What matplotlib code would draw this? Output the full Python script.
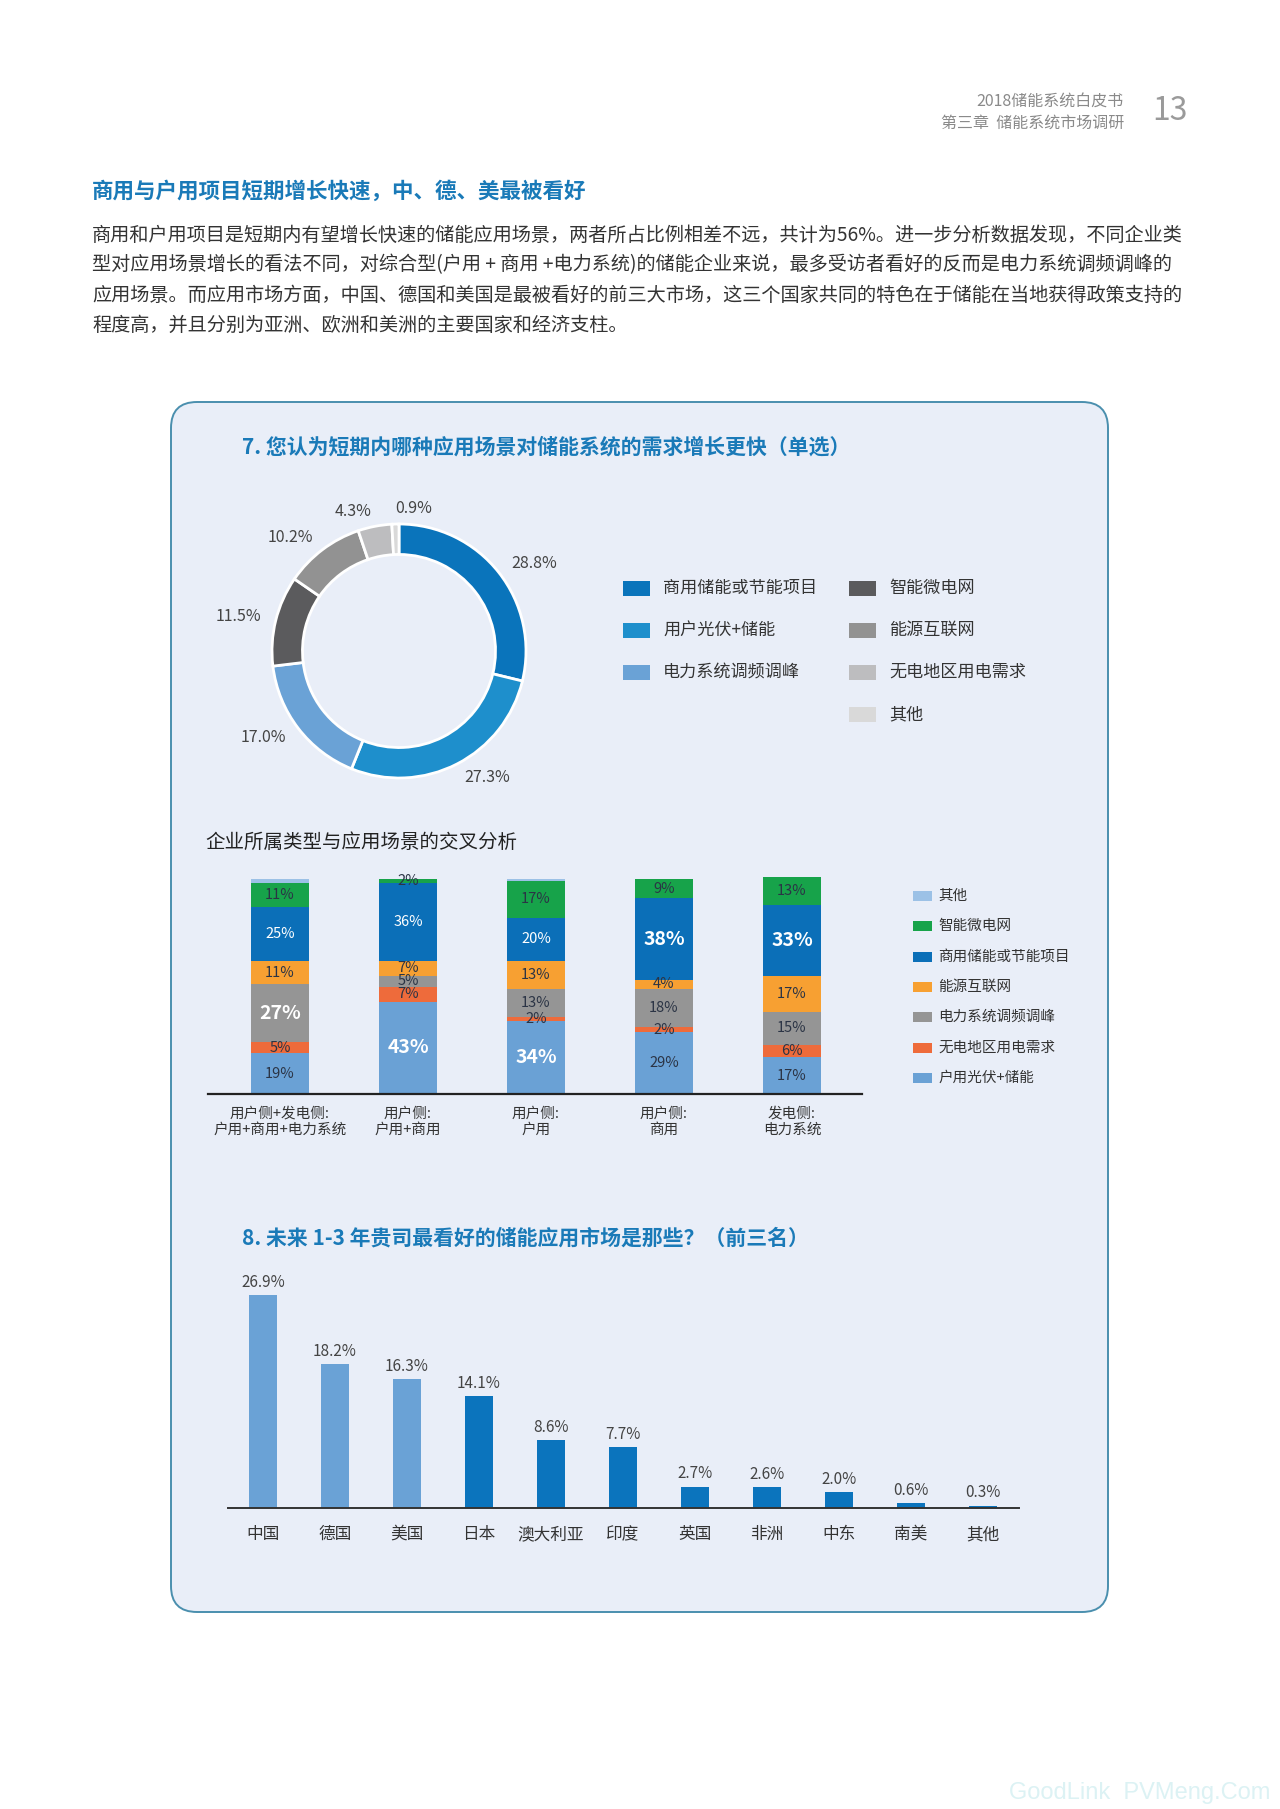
import numpy as np
import matplotlib.pyplot as plt
from matplotlib.patches import FancyBboxPatch, Rectangle

plt.rcParams['font.family'] = ['Noto Sans CJK SC', 'DejaVu Sans']

W, H = 1280, 1809

# ---- donut: question 7
pie_names = ['商用储能或节能项目', '用户光伏+储能', '电力系统调频调峰', '智能微电网',
             '能源互联网', '无电地区用电需求', '其他']
pie_values = [28.8, 27.3, 17.0, 11.5, 10.2, 4.3, 0.9]
pie_colors = ['#0a74bb', '#1e8fcc', '#6aa2d6', '#5b5b5d', '#929292', '#bdbdbf', '#d9d9d9']

# ---- stacked bars: company type x scenario
groups = ['用户侧+发电侧:\n户用+商用+电力系统', '用户侧:\n户用+商用', '用户侧:\n户用',
          '用户侧:\n商用', '发电侧:\n电力系统']
s_huyong = [19, 43, 34, 29, 17]      # 户用光伏+储能
s_wudian = [5, 7, 2, 2, 6]           # 无电地区用电需求
s_tiaofeng = [27, 5, 13, 18, 15]     # 电力系统调频调峰
s_hulian = [11, 7, 13, 4, 17]        # 能源互联网
s_shangyong = [25, 36, 20, 38, 33]   # 商用储能或节能项目
s_weiwang = [11, 2, 17, 9, 13]       # 智能微电网
s_qita = [2, 0, 1, 0, 0]             # 其他
stack_names = ['户用光伏+储能', '无电地区用电需求', '电力系统调频调峰', '能源互联网',
               '商用储能或节能项目', '智能微电网', '其他']
stack_colors = ['#6aa1d5', '#ee6b3b', '#959595', '#f7a032', '#0b6fb8', '#17a34a', '#9cc1e6']
stack_text = ['#2b3445', '#2b3445', '#2b3445', '#2b3445', 'white', '#2b3445', None]

# ---- bars: question 8
markets = ['中国', '德国', '美国', '日本', '澳大利亚', '印度', '英国', '非洲', '中东', '南美', '其他']
market_pct = [26.9, 18.2, 16.3, 14.1, 8.6, 7.7, 2.7, 2.6, 2.0, 0.6, 0.3]
market_colors = ['#6aa2d6'] * 3 + ['#0b74bd'] * 8

paragraph = [
    '商用和户用项目是短期内有望增长快速的储能应用场景，两者所占比例相差不远，共计为56%。进一步分析数据发现，不同企业类',
    '型对应用场景增长的看法不同，对综合型(户用 + 商用 +电力系统)的储能企业来说，最多受访者看好的反而是电力系统调频调峰的',
    '应用场景。而应用市场方面，中国、德国和美国是最被看好的前三大市场，这三个国家共同的特色在于储能在当地获得政策支持的',
    '程度高，并且分别为亚洲、欧洲和美洲的主要国家和经济支柱。',
]

BLUE_T = '#1a7ab8'


def px_rect(x0, y0, x1, y1):
    return [x0 / W, 1 - y1 / H, (x1 - x0) / W, (y1 - y0) / H]


fig = plt.figure(figsize=(W / 100, H / 100), dpi=100)
fig.patch.set_facecolor('white')
page = fig.add_axes([0, 0, 1, 1])
page.set_xlim(0, W)
page.set_ylim(H, 0)
page.axis('off')

# header
page.text(1124, 101, '2018储能系统白皮书', ha='right', va='center', fontsize=11.5, color='#8a8a8a')
page.text(1124, 123, '第三章  储能系统市场调研', ha='right', va='center', fontsize=11.5, color='#8a8a8a')
page.text(1188, 111, '13', ha='right', va='center', fontsize=23, color='#9a9a9a')

page.text(92, 191, '商用与户用项目短期增长快速，中、德、美最被看好', ha='left', va='center',
          fontsize=15.5, fontweight='bold', color=BLUE_T)
for i, line in enumerate(paragraph):
    page.text(92, 235 + 30 * i, line, ha='left', va='center', fontsize=13.8, color='#333333')

# panel
panel = FancyBboxPatch((171, 402), 937, 1210, boxstyle='round,pad=0,rounding_size=26',
                       fc='#e9eef8', ec='#4a8fae', lw=1.4)
page.add_patch(panel)

page.text(242, 447, '7. 您认为短期内哪种应用场景对储能系统的需求增长更快（单选）', ha='left', va='center',
          fontsize=15, fontweight='bold', color=BLUE_T)
page.text(205, 842, '企业所属类型与应用场景的交叉分析', ha='left', va='center', fontsize=14, color='#222222')
page.text(242, 1238, '8. 未来 1-3 年贵司最看好的储能应用市场是那些？（前三名）', ha='left', va='center',
          fontsize=15, fontweight='bold', color=BLUE_T)

# donut legend (two columns)
for i, (name, col) in enumerate(zip(pie_names, pie_colors)):
    if i < 3:
        lx, ly = 623, 588 + 42 * i
    else:
        lx, ly = 849, 588 + 42 * (i - 3)
    page.add_patch(Rectangle((lx, ly - 7.5), 27, 15, fc=col, ec='none'))
    page.text(lx + 40, ly, name, ha='left', va='center', fontsize=12.3, color='#333333')

# stacked legend (top = 其他)
for k, idx in enumerate(range(len(stack_names) - 1, -1, -1)):
    ly = 896 + 30.3 * k
    page.add_patch(Rectangle((913, ly - 5), 19, 10, fc=stack_colors[idx], ec='none'))
    page.text(938, ly, stack_names[idx], ha='left', va='center', fontsize=10.5, color='#333333')

page.text(1270, 1793, 'GoodLink  PVMeng.Com', ha='right', va='center', fontsize=17,
          color='#dcf2f4', family=['Liberation Sans Narrow', 'Liberation Sans', 'DejaVu Sans'])

# ---- donut
cx, cy, R = 399, 651, 127
ax1 = fig.add_axes(px_rect(cx - 1.5 * R, cy - 1.5 * R, cx + 1.5 * R, cy + 1.5 * R))
ax1.set_facecolor('none')
wedges, texts = ax1.pie(pie_values, colors=pie_colors, startangle=90, counterclock=False,
                        radius=1, labels=[f'{v:.1f}%' for v in pie_values], labeldistance=1.12,
                        wedgeprops=dict(width=0.24, edgecolor='white', linewidth=2),
                        textprops=dict(fontsize=11.5, color='#444444'))
texts[-1].set_horizontalalignment('left')  # 0.9% sits right of the top
ax1.set_xlim(-1.5, 1.5)
ax1.set_ylim(-1.5, 1.5)
ax1.set_aspect('equal')
ax1.axis('off')

# ---- stacked bars
base, unit = 1094, 2.15
ax2 = fig.add_axes(px_rect(208, base - 102 * unit, 862, base))
ax2.set_facecolor('none')
series = [s_huyong, s_wudian, s_tiaofeng, s_hulian, s_shangyong, s_weiwang, s_qita]
x = np.arange(len(groups))
bottom = np.zeros(len(groups))
totals_max = [max(col) for col in zip(*series)]
for vals, col, tcol in zip(series, stack_colors, stack_text):
    vals = np.array(vals, dtype=float)
    ax2.bar(x, vals, bottom=bottom, width=0.453, color=col, linewidth=0)
    if tcol is not None:
        for j, v in enumerate(vals):
            if v <= 0:
                continue
            if v == totals_max[j]:
                ax2.text(x[j], bottom[j] + v / 2, f'{int(v)}%', ha='center', va='center',
                         fontsize=14, fontweight='bold', color='white')
            else:
                ax2.text(x[j], bottom[j] + v / 2, f'{int(v)}%', ha='center', va='center',
                         fontsize=10.5, color=tcol)
    bottom += vals
ax2.set_xlim(-0.5625, 4.547)
ax2.set_ylim(0, 102)
for s in ['top', 'right', 'left']:
    ax2.spines[s].set_visible(False)
ax2.spines['bottom'].set_color('#222222')
ax2.spines['bottom'].set_linewidth(1.6)
ax2.set_yticks([])
ax2.set_xticks(x, groups)
ax2.tick_params(axis='x', length=0, pad=9, labelsize=10.5, labelcolor='#333333')

# ---- market bars
ax3 = fig.add_axes(px_rect(228, 1508 - 30 * 7.92, 1019, 1508))
ax3.set_facecolor('none')
xm = np.arange(len(markets))
ax3.bar(xm, market_pct, width=0.40, color=market_colors, linewidth=0)
for i, v in enumerate(market_pct):
    ax3.text(i, v + 0.55, f'{v:.1f}%', ha='center', va='bottom', fontsize=11, color='#444444')
ax3.set_xlim(-0.486, 10.5)
ax3.set_ylim(0, 30)
for s in ['top', 'right', 'left']:
    ax3.spines[s].set_visible(False)
ax3.spines['bottom'].set_color('#333333')
ax3.spines['bottom'].set_linewidth(1.4)
ax3.set_yticks([])
ax3.set_xticks(xm, markets)
ax3.tick_params(axis='x', length=0, pad=13, labelsize=12, labelcolor='#333333')

fig.savefig('out.png', dpi=100)
